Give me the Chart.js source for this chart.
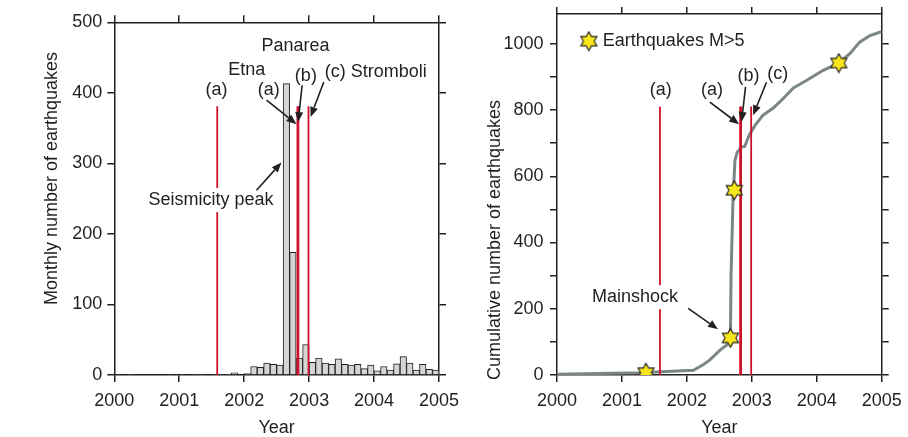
<!DOCTYPE html>
<html>
<head>
<meta charset="utf-8">
<script src="https://cdn.jsdelivr.net/npm/chart.js@4.4.0/dist/chart.umd.min.js"></script>
<style>
  html, body { margin: 0; padding: 0; background: #fff; }
  #wrap { position: relative; width: 908px; height: 437px; overflow: hidden; }
  .panel { position: absolute; top: 0; height: 437px; }
  #left { left: 0; width: 470px; }
  #right { left: 454px; width: 454px; }
</style>
</head>
<body>
<div id="wrap">
  <div class="panel" id="left"><canvas id="monthlyChart"></canvas></div>
  <div class="panel" id="right"><canvas id="cumulativeChart"></canvas></div>
</div>
<script>
// bins of 0.1 year, centre of each bin
const binYears = [
  2000.05, 2000.15, 2000.25, 2000.35, 2000.45, 2000.55, 2000.65, 2000.75, 2000.85, 2000.95,
  2001.05, 2001.15, 2001.25, 2001.35, 2001.45, 2001.55, 2001.65, 2001.75, 2001.85, 2001.95,
  2002.05, 2002.15, 2002.25, 2002.35, 2002.45, 2002.55, 2002.65, 2002.75, 2002.85, 2002.95,
  2003.05, 2003.15, 2003.25, 2003.35, 2003.45, 2003.55, 2003.65, 2003.75, 2003.85, 2003.95,
  2004.05, 2004.15, 2004.25, 2004.35, 2004.45, 2004.55, 2004.65, 2004.75, 2004.85, 2004.95
];
const binCounts = [
  0, 0, 1, 0, 0, 0, 0, 0, 1, 0,
  1, 0, 1, 1, 0, 1, 1, 1, 3, 0,
  2, 12, 11, 17, 15, 14, 413, 174, 24, 43,
  18, 24, 17, 15, 23, 15, 14, 15, 9, 14,
  6, 12, 7, 16, 26, 17, 7, 15, 8, 7
];

// cumulative curve
const cumYears = [2000.0, 2001.28, 2002.1, 2002.25, 2002.35, 2002.51, 2002.61, 2002.67, 2002.68, 2002.71,
  2002.74, 2002.775, 2002.84, 2002.89, 2002.96, 2003.05, 2003.17, 2003.33, 2003.48, 2003.64,
  2003.84, 2004.10, 2004.34, 2004.51, 2004.66, 2004.82, 2004.97, 2005.0];
const cumCounts = [2, 7, 14, 31, 45, 75, 90, 108, 300, 528,
  648, 673, 688, 690, 724, 754, 784, 806, 834, 867,
  889, 920, 942, 970, 1005, 1025, 1035, 1036];

// M>5 events
const bigYears = [2001.37, 2002.67, 2002.73, 2004.34];
const bigCounts = [7, 112, 558, 942];

// eruptions: Etna 2001 (a), Etna 2002 (a), Panarea (b), Stromboli (c)
const eventYears = [2001.585, 2002.82, 2002.835, 2002.99];
const eventTopLeft = 381;
const eventTopRight = 811;

const yearTicks = [2000, 2001, 2002, 2003, 2004, 2005];
const monthlyTicks = [0, 100, 200, 300, 400, 500];
const cumTicks = [0, 100, 200, 300, 400, 500, 600, 700, 800, 900, 1000];

const INK = '#231f20';
const RED = '#d0112b';
const BAR_FILL = '#d4d6d6';
const LINE_GRAY = '#7c8585';
const FAMILY = "'Liberation Sans', Arial, Helvetica, sans-serif";
const FS = 18;

Chart.defaults.font.family = FAMILY;
Chart.defaults.font.size = FS;
Chart.defaults.color = INK;

function makeStar(size) {
  const c = document.createElement('canvas');
  c.width = c.height = size;
  const g = c.getContext('2d');
  const cx = size / 2, cy = size / 2, R = size / 2 - 1.2, r = R * 0.58;
  g.beginPath();
  for (let i = 0; i < 12; i++) {
    const a = -Math.PI / 2 + i * Math.PI / 6;
    const rad = i % 2 ? r : R;
    g.lineTo(cx + rad * Math.cos(a), cy + rad * Math.sin(a));
  }
  g.closePath();
  g.fillStyle = '#f8e71c';
  g.fill();
  g.lineWidth = 1.1;
  g.strokeStyle = INK;
  g.stroke();
  return c;
}
const starImg = makeStar(21);

function drawArrow(ctx, x1, y1, x2, y2) {
  const ang = Math.atan2(y2 - y1, x2 - x1);
  const len = 10, half = 4;
  const bx = x2 - len * Math.cos(ang), by = y2 - len * Math.sin(ang);
  ctx.beginPath();
  ctx.moveTo(x1, y1);
  ctx.lineTo(bx, by);
  ctx.lineWidth = 1.6;
  ctx.stroke();
  ctx.beginPath();
  ctx.moveTo(x2, y2);
  ctx.lineTo(bx + half * Math.sin(ang), by - half * Math.cos(ang));
  ctx.lineTo(bx - half * Math.sin(ang), by + half * Math.cos(ang));
  ctx.closePath();
  ctx.fill();
}

// texts, arrows and axis title drawn on top of the plot
function makeNotes(cfg) {
  return {
    id: 'notes',
    afterDatasetsDraw(chart) {
      const { ctx } = chart;
      const x = chart.scales.x, y = chart.scales.y;
      ctx.save();
      ctx.font = FS + 'px ' + FAMILY;
      ctx.fillStyle = INK;
      ctx.strokeStyle = INK;
      ctx.textBaseline = 'middle';
      cfg.labels.forEach(n => {
        const px = x.getPixelForValue(n.x), py = y.getPixelForValue(n.y);
        ctx.textAlign = n.align || 'center';
        if (n.bg) {
          const w = ctx.measureText(n.text).width;
          const left = n.align === 'left' ? px : px - w / 2;
          ctx.fillStyle = '#fff';
          ctx.fillRect(left - 3, py - 12, w + 6, 24);
          ctx.fillStyle = INK;
        }
        ctx.fillText(n.text, px, py);
      });
      cfg.arrows.forEach(a => {
        drawArrow(ctx,
          x.getPixelForValue(a.from[0]), y.getPixelForValue(a.from[1]),
          x.getPixelForValue(a.to[0]), y.getPixelForValue(a.to[1]));
      });
      if (cfg.legend) {
        const px = x.getPixelForValue(cfg.legend.x), py = y.getPixelForValue(cfg.legend.y);
        ctx.drawImage(starImg, px - 10.5, py - 10.5);
        ctx.textAlign = 'left';
        ctx.fillText(cfg.legend.text, px + 14, py);
      }
      ctx.translate(cfg.yTitle.px, cfg.yTitle.py);
      ctx.rotate(-Math.PI / 2);
      ctx.textAlign = 'center';
      ctx.fillText(cfg.yTitle.text, 0, 0);
      ctx.restore();
    }
  };
}

function tickGrid() {
  return { drawOnChartArea: false, drawTicks: true, tickLength: 7, color: INK, lineWidth: 1.5, offset: false };
}
const frame = { display: true, color: INK, width: 1.5 };

function buildScales(yMax, yTicks, labelEvery, yLabelPad, leftW, topH) {
  return {
    x: {
      type: 'linear', min: 2000, max: 2005, offset: false,
      afterBuildTicks: s => { s.ticks = yearTicks.map(v => ({ value: v })); },
      ticks: { padding: 8, maxRotation: 0, autoSkip: false, color: INK, callback: v => String(v) },
      grid: tickGrid(), border: frame,
      title: { display: true, text: 'Year', color: INK, padding: 0, font: { size: FS, lineHeight: 1 } },
      afterFit: s => { s.height = 62; s.paddingLeft = 0; s.paddingRight = 0; }
    },
    xTop: {
      type: 'linear', position: 'top', min: 2000, max: 2005, offset: false,
      afterBuildTicks: s => { s.ticks = yearTicks.map(v => ({ value: v })); },
      ticks: { display: false }, grid: tickGrid(), border: frame,
      afterFit: s => { s.height = topH; s.paddingLeft = 0; s.paddingRight = 0; }
    },
    y: {
      type: 'linear', min: 0, max: yMax,
      afterBuildTicks: s => { s.ticks = yTicks.map(v => ({ value: v })); },
      ticks: { padding: yLabelPad, color: INK, autoSkip: false,
        callback: v => (v % labelEvery === 0 ? String(v) : '') },
      grid: tickGrid(), border: frame,
      afterFit: s => { s.width = leftW; s.paddingTop = 0; s.paddingBottom = 0; }
    },
    yRight: {
      type: 'linear', position: 'right', min: 0, max: yMax,
      afterBuildTicks: s => { s.ticks = yTicks.map(v => ({ value: v })); },
      ticks: { display: false, autoSkip: false }, grid: tickGrid(), border: frame,
      afterFit: s => { s.width = 15; s.paddingTop = 0; s.paddingBottom = 0; }
    }
  };
}

function eventLines(top) {
  return eventYears.map(yr => ({
    type: 'line',
    data: [{ x: yr, y: 0 }, { x: yr, y: top }],
    borderColor: RED,
    borderWidth: 1.8,
    pointRadius: 0,
    order: 1
  }));
}

// left panel: monthly histogram
new Chart(document.getElementById('monthlyChart'), {
  type: 'bar',
  data: {
    datasets: [
      {
        type: 'bar',
        data: binYears.map((yr, i) => ({ x: yr, y: binCounts[i] })),
        backgroundColor: BAR_FILL,
        borderColor: INK,
        borderWidth: 1,
        barPercentage: 1,
        categoryPercentage: 1,
        order: 2
      },
      ...eventLines(eventTopLeft)
    ]
  },
  options: {
    responsive: true,
    maintainAspectRatio: false,
    animation: false,
    layout: { padding: { left: 0, right: 16, top: 0, bottom: 0 } },
    plugins: { legend: { display: false }, tooltip: { enabled: false } },
    scales: buildScales(500, monthlyTicks, 100, 5, 114.3, 22.3)
  },
  plugins: [makeNotes({
    labels: [
      { text: 'Panarea', x: 2002.79, y: 467 },
      { text: 'Etna', x: 2002.04, y: 432 },
      { text: '(a)', x: 2001.575, y: 404 },
      { text: '(a)', x: 2002.38, y: 404 },
      { text: '(b)', x: 2002.95, y: 424 },
      { text: '(c) Stromboli', x: 2003.24, y: 429, align: 'left' },
      { text: 'Seismicity peak', x: 2001.49, y: 248, bg: true }
    ],
    arrows: [
      { from: [2002.345, 389.5], to: [2002.806, 355.5] },
      { from: [2002.892, 410.8], to: [2002.831, 358.6] },
      { from: [2003.226, 415.4], to: [2003.022, 365.9] },
      { from: [2002.19, 262], to: [2002.575, 301.3] }
    ],
    yTitle: { text: 'Monthly number of earthquakes', px: 52, py: 178.5 }
  })]
});

// right panel: cumulative number
new Chart(document.getElementById('cumulativeChart'), {
  type: 'line',
  data: {
    datasets: [
      {
        data: bigYears.map((yr, i) => ({ x: yr, y: bigCounts[i] })),
        showLine: false,
        pointStyle: starImg,
        pointRadius: 10,
        order: 0
      },
      ...eventLines(eventTopRight),
      {
        data: cumYears.map((yr, i) => ({ x: yr, y: cumCounts[i] })),
        borderColor: LINE_GRAY,
        borderWidth: 3,
        pointRadius: 0,
        tension: 0,
        order: 2
      }
    ]
  },
  options: {
    responsive: true,
    maintainAspectRatio: false,
    animation: false,
    layout: { padding: { left: 0, right: 11.3, top: 0, bottom: 0 } },
    plugins: { legend: { display: false }, tooltip: { enabled: false } },
    scales: buildScales(1090, cumTicks, 200, 6.5, 103, 14)
  },
  plugins: [makeNotes({
    labels: [
      { text: '(a)', x: 2001.597, y: 859 },
      { text: '(a)', x: 2002.385, y: 859 },
      { text: '(b)', x: 2002.95, y: 904 },
      { text: '(c)', x: 2003.40, y: 910 },
      { text: 'Mainshock', x: 2001.2, y: 235, bg: true }
    ],
    arrows: [
      { from: [2002.354, 824], to: [2002.805, 757] },
      { from: [2002.903, 870], to: [2002.842, 764] },
      { from: [2003.226, 884], to: [2003.02, 784] },
      { from: [2002.02, 201], to: [2002.48, 138] }
    ],
    legend: { text: 'Earthquakes M>5', x: 2000.49, y: 1008 },
    yTitle: { text: 'Cumulative number of earthquakes', px: 41, py: 240 }
  })]
});
</script>
</body>
</html>
